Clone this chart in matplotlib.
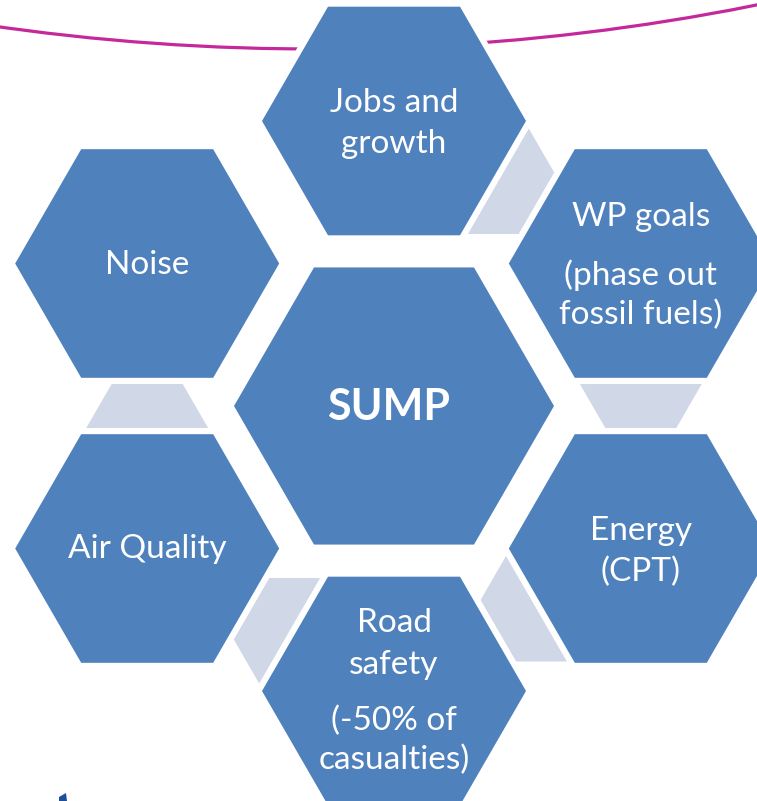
import numpy as np
import matplotlib.pyplot as plt
from matplotlib.patches import Polygon, Arc

plt.rcParams['font.family'] = ['Lato', 'DejaVu Sans']

# hexagon labels (one entry per line, paragraphs split)
hub_label = 'SUMP'
sat_labels = [
    ['Jobs and', 'growth'],
    ['WP goals', '(phase out', 'fossil fuels)'],
    ['Energy', '(CPT)'],
    ['Road', 'safety', '(-50% of', 'casualties)'],
    ['Air Quality'],
    ['Noise'],
]
# vertical offsets of each line from the hexagon centre (px)
sat_line_dy = [
    [-18, 23],
    [-46, 12, 51],
    [-18, 23],
    [-68, -26, 30, 69],
    [0],
    [2],
]
sat_angles = [90, 30, -30, -90, -150, 150]
links = [(0, 1), (1, 2), (2, 3), (3, 4), (4, 5)]

hex_blue = '#4F81BD'
link_col = '#D0D8E8'
ring_col = '#C4289B'

W, H = 757, 801
hub = np.array([394.0, 406.0])
hub_r = 160
ring_d = 285
sat_r = 132

fig = plt.figure(figsize=(W / 100, H / 100), dpi=100)
ax = fig.add_axes([0, 0, 1, 1])
ax.set_xlim(0, W)
ax.set_ylim(H, 0)
ax.set_aspect('equal')
ax.axis('off')


def hex_pts(c, r):
    a = np.radians(np.arange(0, 360, 60))
    return np.column_stack([c[0] + r * np.cos(a), c[1] - r * np.sin(a)])


def link_poly(ci, cj, r, d1, d2, inset):
    u = (cj - ci) / np.linalg.norm(cj - ci)
    pts = hex_pts(ci, r)
    best = None
    for k in range(6):
        p, q = pts[k], pts[(k + 1) % 6]
        mid = (p + q) / 2
        n = (mid - ci) / np.linalg.norm(mid - ci)
        if best is None or n @ u > best[0]:
            best = (n @ u, p, q, mid, n)
    _, p, q, mid, n = best
    t = (q - p) / np.linalg.norm(q - p)
    half = lambda d: r / 2 - d * np.tan(np.radians(30)) - inset
    return np.array([mid + n * d1 - t * half(d1), mid + n * d1 + t * half(d1),
                     mid + n * d2 + t * half(d2), mid + n * d2 - t * half(d2)])


centres = [hub + ring_d * np.array([np.cos(np.radians(a)), -np.sin(np.radians(a))])
           for a in sat_angles]

# decorative magenta arc at the top
arc_c, arc_R = (314, -2200), 2249
ax.add_patch(Arc(arc_c, 2 * arc_R, 2 * arc_R, theta1=70, theta2=105,
                 color=ring_col, lw=2.3, zorder=1))

# light connectors between neighbouring hexagons
gap = ring_d - 2 * sat_r * np.cos(np.radians(30))
for i, j in links:
    poly = link_poly(centres[i], centres[j], sat_r, 6, gap - 6, 1.5)
    ax.add_patch(Polygon(poly, closed=True, fc=link_col, ec='none', zorder=2))

# hexagons with white halo
for c, r in [(hub, hub_r)] + [(c, sat_r) for c in centres]:
    ax.add_patch(Polygon(hex_pts(c, r + 7), closed=True, fc='white', ec='none', zorder=2.5))
    ax.add_patch(Polygon(hex_pts(c, r), closed=True, fc=hex_blue, ec='none', zorder=3))

ax.text(hub[0] - 5, hub[1] + 1, hub_label, color='white', fontsize=31, fontweight='bold',
        ha='center', va='center', zorder=4)
for c, lines, dys in zip(centres, sat_labels, sat_line_dy):
    for line, dy in zip(lines, dys):
        ax.text(c[0], c[1] + dy, line, color='white', fontsize=24,
                ha='center', va='center', zorder=4)

# sliver of a logo in the bottom-left corner
ax.add_patch(Polygon([[59, 801], [59, 797], [66, 793], [67, 801]], closed=True,
                     fc='#1F4E99', ec='none', zorder=4))

fig.savefig('out.png', dpi=100)
